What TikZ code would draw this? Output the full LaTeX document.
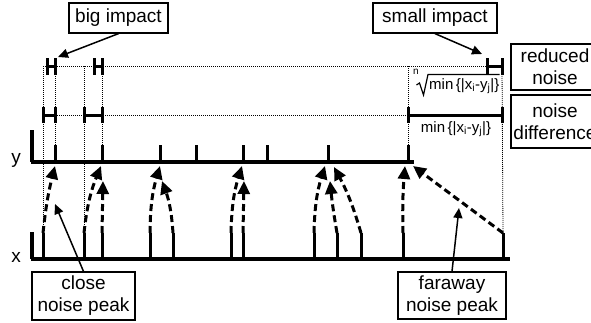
\documentclass[tikz,border=0pt]{standalone}
\usepackage{fontspec}
\setmainfont{Liberation Sans}
\usetikzlibrary{arrows.meta}
\tikzset{
  axisline/.style={line width=4pt},
  peak/.style={line width=3pt},
  hbar/.style={line width=3pt},
  dotline/.style={line width=0.8pt, dash pattern=on 1pt off 1pt},
  link/.style={line width=3pt, dash pattern=on 7pt off 4pt, -{Triangle[length=13pt,width=12pt]}},
  note/.style={draw, line width=1.2pt, align=center, inner sep=0pt, font=\fontsize{19}{22}\selectfont},
  notearrow/.style={line width=1.5pt, -{Triangle[length=10pt,width=9pt]}},
  lbl/.style={font=\fontsize{19}{22}\selectfont, inner sep=0pt},
  mathlbl/.style={font=\fontsize{15}{17}\selectfont, inner sep=0pt},
  radical/.style={line width=1.2pt, line join=miter},
}
\newcommand{\mindist}{min\,\{|x\textsubscript{i}-y\textsubscript{j}|\}}
\begin{document}
\begin{tikzpicture}[x=1pt,y=-1pt]
\useasboundingbox (0,0) rectangle (591,322);
% axes
\coordinate (ys) at (31,162); \coordinate (ye) at (414,162);
\coordinate (xs) at (31,259); \coordinate (xe) at (510,259);
\draw[axisline] (ys) -- (ye);
\draw[axisline] (xs) -- (xe);
\draw[axisline] (32,130) -- (32,162);
\draw[axisline] (32,232) -- (32,259);
\node[lbl] (ylab) at (16,160) {y};
\node[lbl] (xlab) at (16,257) {x};
% y peaks
\foreach \n/\px in {1/55,2/102,3/160,4/196,5/243,6/267,7/328,8/408}{
  \draw[peak] (\px,145) -- (\px,162);
  \coordinate (yp\n) at (\px,145);
}
% x peaks
\foreach \n/\px in {1/43,2/84,3/102,4/150,5/173,6/231,7/243,8/314,9/337,10/361,11/403,12/503}{
  \draw[peak] (\px,233) -- (\px,259);
  \coordinate (xp\n) at (\px,233);
}
% dotted guides
\draw[dotline] (43,66) -- (487,66);
\draw[dotline] (43,115) -- (408,115);
\draw[dotline] (43,66) -- (xp1);
\draw[dotline] (55,66) -- (yp1);
\draw[dotline] (84,66) -- (xp2);
\draw[dotline] (102,66) -- (yp2);
\draw[dotline] (408,66) -- (yp8);
\draw[dotline] (502,66) -- (xp12);
% reduced H bars (row 1)
\foreach \a/\b in {47/55,94/102,487/502}{
  \draw[hbar] (\a,58) -- (\a,75);
  \draw[hbar] (\b,58) -- (\b,75);
  \draw[hbar] (\a,66.5) -- (\b,66.5);
}
% distance bars (row 2)
\foreach \a/\b in {43/55,84/102,408/502}{
  \draw[hbar] (\a,107) -- (\a,123);
  \draw[hbar] (\b,107) -- (\b,123);
  \draw[hbar] (\a,115) -- (\b,115);
}
% formulas
\node[mathlbl, anchor=west] (rootf) at (429,86) {\mindist};
\node[inner sep=0pt, font=\fontsize{10}{11}\selectfont] (rootn) at (416,72) {n};
\draw[radical] (416.5,85) -- (419.5,83) -- (423.5,95) -- (428,74.5) -- (rootf.east |- 0,74.5);
\node[mathlbl] (minf) at (456,129) {\mindist};
% targets on y line
\coordinate (t1) at (55,166);
\coordinate (t2) at (101,166);
\coordinate (t2b) at (103,181);
\coordinate (t3) at (160,166);
\coordinate (t3b) at (162,181);
\coordinate (t4) at (242,166);
\coordinate (t4b) at (244,181);
\coordinate (t5) at (325,166);
\coordinate (t5b) at (330,181);
\coordinate (t5c) at (334,167);
\coordinate (t6) at (405,166);
\coordinate (t6b) at (413,166);
% links
\draw[link] (xp1) to[bend left=4] (t1);
\draw[link] (xp2) to[bend left=8] (t2);
\draw[link] (xp3) -- (t2b);
\draw[link] (xp4) to[bend left=8] (t3);
\draw[link] (xp5) to[bend right=8] (t3b);
\draw[link] (xp6) to[bend left=8] (t4);
\draw[link] (xp7) -- (t4b);
\draw[link] (xp8) to[bend left=8] (t5);
\draw[link] (xp9) to[bend left=2] (t5b);
\draw[link] (xp10) to[bend right=6] (t5c);
\draw[link] (xp11) to[bend left=3] (t6);
\draw[link] (xp12) -- (t6b);
% notes
\node[note, minimum width=99pt, minimum height=30pt] (big) at (118.5,18) {big impact};
\node[note, minimum width=124pt, minimum height=30pt] (small) at (435,18) {small impact};
\node[note, minimum width=88pt, minimum height=46pt] (red) at (555,67) {reduced\\noise};
\node[note, minimum width=88pt, minimum height=53pt] (diff) at (555,121.5) {noise\\difference};
\node[note, minimum width=103pt, minimum height=48pt] (close) at (83.5,296) {close\\noise peak};
\node[note, minimum width=108pt, minimum height=47pt] (far) at (452,295.5) {faraway\\noise peak};
\coordinate (bigtip) at (58,57);
\coordinate (smalltip) at (482,54);
\coordinate (closetip) at (55,204);
\coordinate (fartip) at (459,208);
\draw[notearrow] (big.south) -- (bigtip);
\draw[notearrow] (small.south) -- (smalltip);
\draw[notearrow] (close.north) -- (closetip);
\draw[notearrow] (far.north) -- (fartip);
\end{tikzpicture}
\end{document}
